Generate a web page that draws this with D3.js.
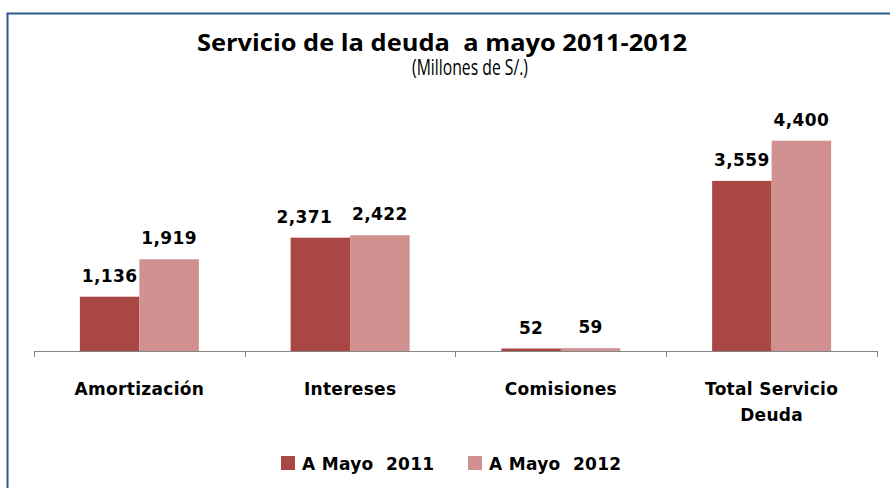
<!DOCTYPE html>
<html>
<head>
<meta charset="utf-8">
<script src="https://cdn.jsdelivr.net/npm/d3@7"></script>
<style>
  body { margin: 0; background: #fff; }
  svg { display: block; }
</style>
</head>
<body>
<script>
// data
var categories = ["Amortización", "Intereses", "Comisiones", "Total Servicio Deuda"];
var series = ["A Mayo  2011", "A Mayo  2012"];
var may2011 = [1136, 2371, 52, 3559];
var may2012 = [1919, 2422, 59, 4400];
var colors = ["#a94745", "#d29191"];

var W = 890, H = 488;

var svg = d3.select("body").append("svg")
    .attr("width", W)
    .attr("height", H);

// frame (runs off the right and bottom of the picture)
svg.append("rect")
    .attr("x", 7.5).attr("y", 13.5)
    .attr("width", W + 10).attr("height", H + 10)
    .attr("fill", "none")
    .attr("stroke", "#2d5a8e")
    .attr("stroke-width", 2);

// title
svg.append("text")
    .attr("x", 442).attr("y", 51)
    .attr("text-anchor", "middle")
    .attr("xml:space", "preserve")
    .attr("textLength", 490)
    .attr("lengthAdjust", "spacingAndGlyphs")
    .style("font-family", "'Open Sans', sans-serif")
    .style("font-weight", "bold")
    .style("font-size", "23px")
    .text("Servicio de la deuda  a mayo 2011-2012");

svg.append("text")
    .attr("x", 470).attr("y", 75)
    .attr("text-anchor", "middle")
    .attr("textLength", 116)
    .attr("lengthAdjust", "spacingAndGlyphs")
    .style("font-family", "'Open Sans', sans-serif")
    .style("font-size", "21px")
    .text("(Millones de S/.)");

// scales
var x0 = d3.scaleBand()
    .domain(categories)
    .range([34, 877])
    .paddingInner(0.4353)
    .paddingOuter(0.2177);

var x1 = d3.scaleBand()
    .domain(series)
    .range([0, x0.bandwidth()]);

var y = d3.scaleLinear()
    .domain([0, 5000])
    .range([351, 112]);

var rows = categories.map(function(c, i) {
  return {cat: c, vals: [may2011[i], may2012[i]]};
});

// labels that Excel pushed aside so they don't collide
var nudge = {"Intereses": [-16, 0]};

var groups = svg.selectAll(".grp")
    .data(rows)
  .enter().append("g")
    .attr("class", "grp")
    .attr("transform", function(d) { return "translate(" + x0(d.cat) + ",0)"; });

groups.selectAll("rect")
    .data(function(d) { return d.vals.map(function(v, j) { return {s: series[j], v: v, j: j}; }); })
  .enter().append("rect")
    .attr("x", function(d) { return x1(d.s); })
    .attr("y", function(d) { return y(d.v); })
    .attr("width", x1.bandwidth())
    .attr("height", function(d) { return y(0) - y(d.v); })
    .attr("fill", function(d) { return colors[d.j]; });

var fmt = d3.format(",");

groups.selectAll(".val")
    .data(function(d) { return d.vals.map(function(v, j) { return {cat: d.cat, s: series[j], v: v, j: j}; }); })
  .enter().append("text")
    .attr("class", "val")
    .attr("x", function(d) {
      var dx = nudge[d.cat] ? nudge[d.cat][d.j] : 0;
      return x1(d.s) + x1.bandwidth() / 2 + dx;
    })
    .attr("y", function(d) { return y(d.v) - 15; })
    .attr("text-anchor", "middle")
    .style("font-family", "'DejaVu Sans', sans-serif")
    .style("font-weight", "bold")
    .style("font-size", "17px")
    .style("letter-spacing", "0.4px")
    .text(function(d) { return fmt(d.v); });

// x axis with ticks at the category boundaries
var axis = svg.append("g");
axis.append("line")
    .attr("x1", 34).attr("x2", 877)
    .attr("y1", y(0) + 0.5).attr("y2", y(0) + 0.5)
    .attr("stroke", "#868686");

var bounds = [0, 1, 2, 3, 4].map(function(i) { return 34 + i * x0.step(); });
axis.selectAll(".tk")
    .data(bounds)
  .enter().append("line")
    .attr("x1", function(d) { return Math.round(d) + 0.5; })
    .attr("x2", function(d) { return Math.round(d) + 0.5; })
    .attr("y1", y(0)).attr("y2", y(0) + 6)
    .attr("stroke", "#868686");

// category labels (wrap the long one)
var catLines = {
  "Amortización": ["Amortización"],
  "Intereses": ["Intereses"],
  "Comisiones": ["Comisiones"],
  "Total Servicio Deuda": ["Total Servicio", "Deuda"]
};

svg.selectAll(".cat")
    .data(categories)
  .enter().append("text")
    .attr("class", "cat")
    .attr("text-anchor", "middle")
    .attr("y", 395)
    .style("font-family", "'DejaVu Sans', sans-serif")
    .style("font-weight", "bold")
    .style("font-size", "17px")
    .style("letter-spacing", "0.3px")
    .each(function(d) {
      var t = d3.select(this);
      var cx = x0(d) + x0.bandwidth() / 2;
      catLines[d].forEach(function(line, i) {
        t.append("tspan")
            .attr("x", cx)
            .attr("dy", i === 0 ? 0 : 26)
            .text(line);
      });
    });

// legend
var legX = [281, 468];
var leg = svg.selectAll(".leg")
    .data(series)
  .enter().append("g")
    .attr("class", "leg")
    .attr("transform", function(d, i) { return "translate(" + legX[i] + ",456)"; });

leg.append("rect")
    .attr("width", 14).attr("height", 14)
    .attr("fill", function(d, i) { return colors[i]; });

leg.append("text")
    .attr("x", 21).attr("y", 14)
    .attr("xml:space", "preserve")
    .style("font-family", "'DejaVu Sans', sans-serif")
    .style("font-weight", "bold")
    .style("font-size", "17px")
    .style("letter-spacing", "0.3px")
    .text(function(d) { return d; });
</script>
</body>
</html>
